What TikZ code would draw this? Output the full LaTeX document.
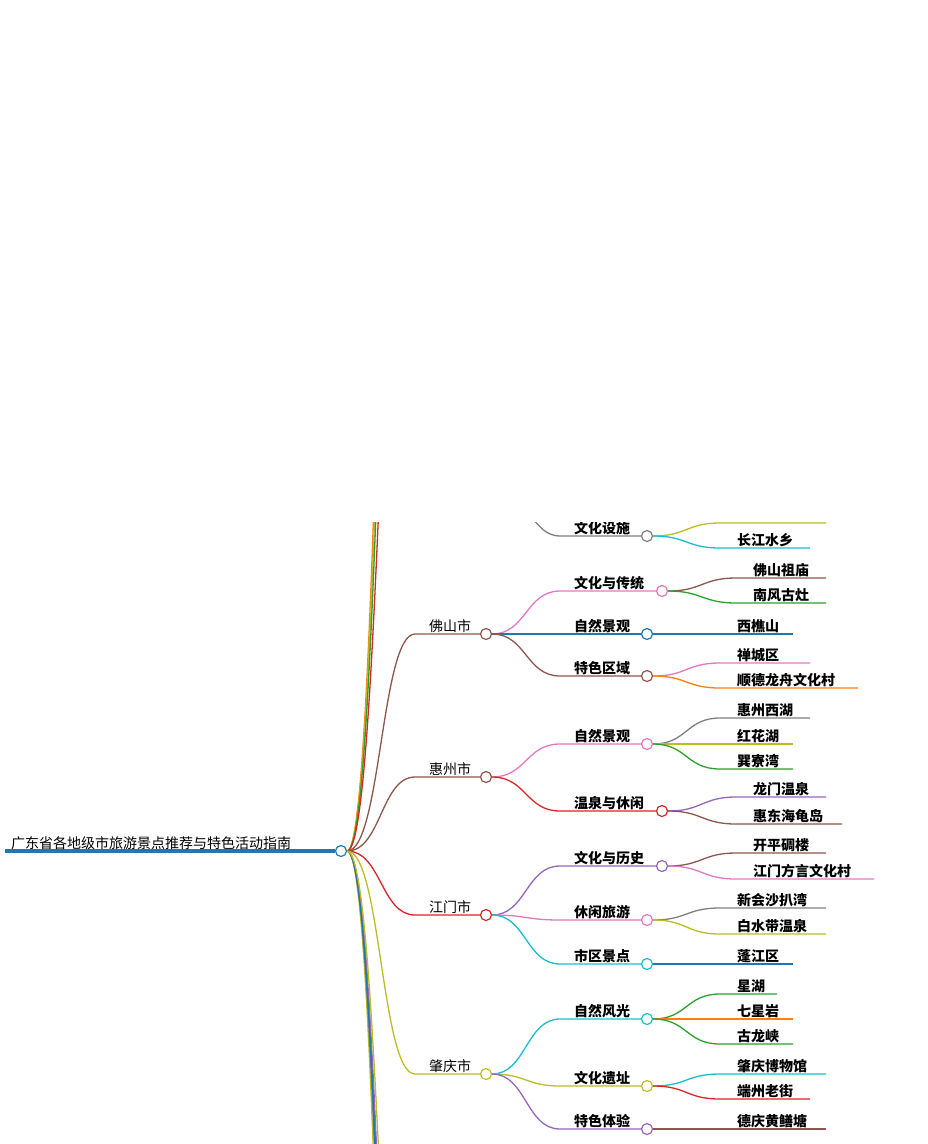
\documentclass[tikz,border=0pt]{standalone}
\usepackage{fontspec}
\newfontfamily\cjk{Noto Sans CJK SC}
\definecolor{cbrown}{HTML}{8C564B}\definecolor{cpink}{HTML}{E377C2}
\definecolor{cblue}{HTML}{1F77B4}\definecolor{cgray}{HTML}{7F7F7F}
\definecolor{colive}{HTML}{BCBD22}\definecolor{ccyan}{HTML}{17BECF}
\definecolor{cgreen}{HTML}{2CA02C}\definecolor{corange}{HTML}{FF7F0E}
\definecolor{cred}{HTML}{D62728}\definecolor{cpurple}{HTML}{9467BD}
\tikzset{dot/.style={circle,draw,fill=white,minimum size=11pt,inner sep=0pt,line width=1.2pt},
ln/.style={line width=1.3pt},
lbl/.style={anchor=south west,inner sep=1pt,font=\cjk\bfseries\fontsize{14}{14}\selectfont},
clbl/.style={anchor=south west,inner sep=1pt,font=\cjk\fontsize{14}{14}\selectfont}}
\newcommand\mymid[6]{\coordinate (#1s) at (560,#3);\node[dot,draw=#5] (#1) at (#2,#3) {};
\node[lbl] at (573,#3) {#4};\draw[ln,#5] (#6.east) .. controls ([xshift=34pt]#6.east) and ([xshift=-34pt]#1s) .. (#1s) -- (#1.west);}
\newcommand\myleaf[7]{\coordinate (#1s) at (#2-16,#3);\coordinate (#1e) at (#4,#3);
\node[lbl] at (#2,#3) {#5};\draw[ln,#6] (#7.east) .. controls ([xshift=34pt]#7.east) and ([xshift=-34pt]#1s) .. (#1s) -- (#1e);}
\newcommand\mycity[4]{\coordinate (#1s) at (415,#2);\node[dot,draw=#4] (#1) at (486,#2) {};
\node[clbl] at (428,#2) {#3};\draw[ln,#4] (root.east) .. controls ([xshift=34pt]root.east) and ([xshift=-34pt]#1s) .. (#1s) -- (#1.west);}
\begin{document}
\begin{tikzpicture}[x=1pt,y=-1pt]
\useasboundingbox (0,0) rectangle (927,1144);
\clip (0,522) rectangle (927,1144);
\node[dot,draw=cblue] (root) at (341,851) {};
\coordinate (rs) at (5,851);
\draw[line width=4pt,cblue] (rs) -- (root.west);
\node[clbl] at (10,851) {广东省各地级市旅游景点推荐与特色活动指南};
\foreach \cc/\yy in {corange/-300,colive/-200,cgreen/-100,cred/60}{
 \coordinate (up) at (415,\yy);
 \draw[ln,\cc] (root.east) .. controls ([xshift=34pt]root.east) and ([xshift=-34pt]up) .. (up);}
\foreach \cc/\yy in {colive/1900,cgray/1800,cblue/1700,cpurple/1650,cblue/1750,colive/1550}{
 \coordinate (dn) at (415,\yy);
 \draw[ln,\cc] (root.east) .. controls ([xshift=34pt]root.east) and ([xshift=-34pt]dn) .. (dn);}
\coordinate (gp) at (486,470);
\mycity{fs}{634}{佛山市}{cbrown}
\mycity{hz}{777}{惠州市}{cbrown}
\mycity{jm}{915}{江门市}{cred}
\mycity{zq}{1074}{肇庆市}{colive}
\mymid{a1}{647}{536}{文化设施}{cgray}{gp}
\mymid{a2}{662}{591}{文化与传统}{cpink}{fs}
\mymid{a3}{647}{634}{自然景观}{cblue}{fs}
\mymid{a4}{647}{676}{特色区域}{cbrown}{fs}
\mymid{b1}{647}{744}{自然景观}{cpink}{hz}
\mymid{b2}{662}{811}{温泉与休闲}{cred}{hz}
\mymid{c1}{662}{866}{文化与历史}{cpurple}{jm}
\mymid{c2}{647}{920}{休闲旅游}{cpink}{jm}
\mymid{c3}{647}{964}{市区景点}{ccyan}{jm}
\mymid{d1}{647}{1019}{自然风光}{ccyan}{zq}
\mymid{d2}{647}{1086}{文化遗址}{colive}{zq}
\mymid{d3}{647}{1129}{特色体验}{cpurple}{zq}
\myleaf{l1}{736}{523}{826}{}{colive}{a1}
\myleaf{l2}{736}{548}{810}{长江水乡}{ccyan}{a1}
\myleaf{l3}{752}{578}{826}{佛山祖庙}{cbrown}{a2}
\myleaf{l4}{752}{603}{826}{南风古灶}{cgreen}{a2}
\myleaf{l5}{736}{634}{793}{西樵山}{cblue}{a3}
\myleaf{l6}{736}{663}{810}{禅城区}{cpink}{a4}
\myleaf{l7}{736}{688}{858}{顺德龙舟文化村}{corange}{a4}
\myleaf{l8}{736}{718}{810}{惠州西湖}{cgray}{b1}
\myleaf{l9}{736}{744}{793}{红花湖}{colive}{b1}
\myleaf{l10}{736}{769}{793}{巽寮湾}{cgreen}{b1}
\myleaf{l11}{752}{797}{826}{龙门温泉}{cpurple}{b2}
\myleaf{l12}{752}{824}{842}{惠东海龟岛}{cbrown}{b2}
\myleaf{l13}{752}{853}{826}{开平碉楼}{cbrown}{c1}
\myleaf{l14}{752}{879}{874}{江门方言文化村}{cpink}{c1}
\myleaf{l15}{736}{908}{826}{新会沙扒湾}{cgray}{c2}
\myleaf{l16}{736}{934}{826}{白水带温泉}{colive}{c2}
\myleaf{l17}{736}{964}{793}{蓬江区}{cblue}{c3}
\myleaf{l18}{736}{994}{777}{星湖}{cgreen}{d1}
\myleaf{l19}{736}{1019}{793}{七星岩}{corange}{d1}
\myleaf{l20}{736}{1044}{793}{古龙峡}{cgreen}{d1}
\myleaf{l21}{736}{1074}{826}{肇庆博物馆}{ccyan}{d2}
\myleaf{l22}{736}{1099}{810}{端州老街}{cred}{d2}
\myleaf{l23}{736}{1129}{826}{德庆黄鳝塘}{cbrown}{d3}
\end{tikzpicture}
\end{document}
